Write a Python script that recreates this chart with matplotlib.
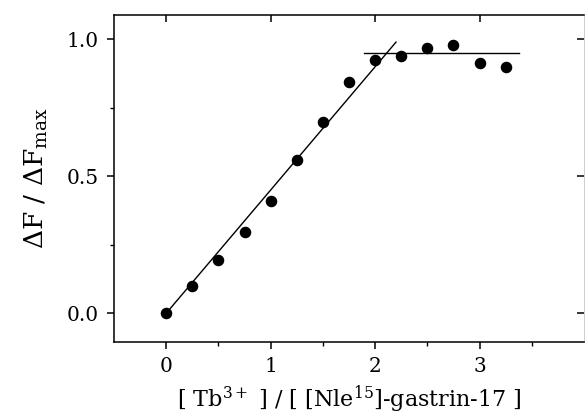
import numpy as np
import matplotlib
matplotlib.use("Agg")
import matplotlib.pyplot as plt

# measured points (ratio Tb3+ / peptide vs normalised fluorescence change)
ratio = [0.0, 0.25, 0.5, 0.75, 1.0, 1.25, 1.5, 1.75, 2.0, 2.25, 2.5, 2.75, 3.0, 3.25]
dF = [0.0, 0.10, 0.195, 0.298, 0.411, 0.56, 0.70, 0.845, 0.925, 0.94, 0.97, 0.98, 0.912, 0.90]

# the two straight lines drawn through the data
rise_x = [0.0, 2.2]
rise_y = [0.0, 0.99]
plateau_x = [1.89, 3.38]
plateau_y = [0.951, 0.951]

xticks = [0, 1, 2, 3]
yticks = [0.0, 0.5, 1.0]
ytick_labels = ["0.0", "0.5", "1.0"]

plt.rcParams["font.family"] = ["DejaVu Serif"]
plt.rcParams["mathtext.fontset"] = "dejavuserif"

fig = plt.figure(figsize=(5.85, 4.19), dpi=100)
ax = fig.add_axes([114 / 585, 1 - 342 / 419, 470 / 585, 327 / 419])

ax.plot(rise_x, rise_y, color="black", lw=1.0)
ax.plot(plateau_x, plateau_y, color="black", lw=1.0)
ax.plot(ratio, dF, "o", color="black", ms=7.3)

ax.set_xlim(-0.5, 4.0)
ax.set_ylim(-0.105, 1.089)

ax.set_xticks(xticks)
ax.set_xticklabels([str(t) for t in xticks])
ax.set_xticks(np.arange(0.5, 4.0, 1.0), minor=True)
ax.set_yticks(yticks)
ax.set_yticklabels(ytick_labels)
ax.set_yticks([0.25, 0.75], minor=True)

for s in ["left", "bottom", "top"]:
    ax.spines[s].set_linewidth(1.1)
ax.spines["right"].set_linewidth(0.5)
ax.spines["right"].set_color("#bbbbbb")

ax.tick_params(axis="both", which="major", labelsize=14.5, width=1.1, length=5,
               direction="out", pad=6)
ax.tick_params(axis="both", which="minor", width=1.0, length=3, direction="out")

# inward ticks on top and right, no labels
# (secondary axes pick up tick direction from rcParams when created)
plt.rcParams["xtick.direction"] = "in"
plt.rcParams["ytick.direction"] = "in"
sec_top = ax.secondary_xaxis("top")
sec_top.set_xticks(xticks, labels=[])
sec_top.tick_params(direction="in", length=5, width=1.1)
sec_top.spines["top"].set_visible(False)
sec_right = ax.secondary_yaxis("right")
sec_right.set_yticks(yticks, labels=[])
sec_right.tick_params(direction="in", length=5, width=1.1)
sec_right.spines["right"].set_visible(False)

ax.set_ylabel(r"$\Delta$F / $\Delta$F$_{\rm max}$", fontsize=19, labelpad=12)
ax.set_xlabel(r"[ Tb$^{3+}$ ] / [ [Nle$^{15}$]-gastrin-17 ]", fontsize=16, labelpad=5)

fig.savefig("out.png", dpi=100)
